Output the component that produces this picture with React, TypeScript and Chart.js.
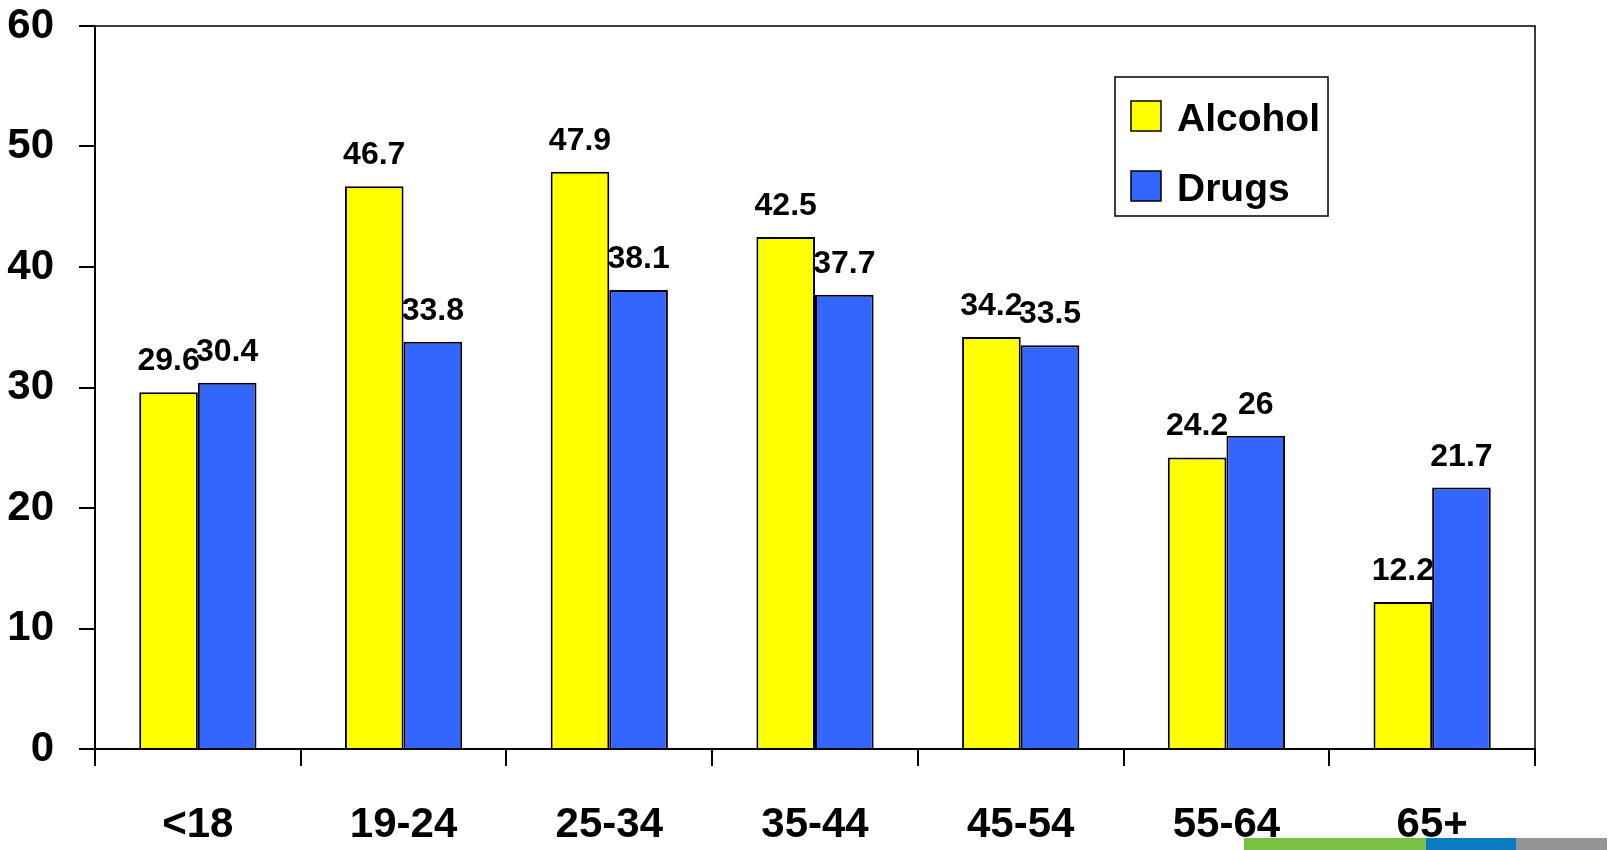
import { useEffect, useRef } from "react";
import { Chart, registerables } from "chart.js";

Chart.register(...registerables);

// Age groups along the x axis
const ageGroups = ["<18", "19-24", "25-34", "35-44", "45-54", "55-64", "65+"];
// Percentages per age group
const alcoholValues = [29.6, 46.7, 47.9, 42.5, 34.2, 24.2, 12.2];
const drugValues = [30.4, 33.8, 38.1, 37.7, 33.5, 26, 21.7];
// Value axis range
const yMin = 0;
const yMax = 60;
const yStep = 10;

const FONT = '"Liberation Sans", Arial, sans-serif';

// Prints each bar's value above it
const valueLabels = {
  id: "valueLabels",
  afterDatasetsDraw(chart: any) {
    const ctx = chart.ctx;
    ctx.save();
    ctx.font = `bold 32px ${FONT}`;
    ctx.fillStyle = "#000";
    ctx.textAlign = "center";
    ctx.textBaseline = "alphabetic";
    chart.data.datasets.forEach((ds: any, i: number) => {
      const meta = chart.getDatasetMeta(i);
      meta.data.forEach((bar: any, j: number) => {
        ctx.fillText(String(ds.data[j]), bar.x, bar.y - 22);
      });
    });
    ctx.restore();
  },
};

// Frame on the top and right of the plot area
const plotFrame = {
  id: "plotFrame",
  afterDraw(chart: any) {
    const { ctx, chartArea } = chart;
    ctx.save();
    ctx.strokeStyle = "#000";
    ctx.lineWidth = 1.5;
    ctx.beginPath();
    ctx.moveTo(chartArea.left, chartArea.top);
    ctx.lineTo(chartArea.right, chartArea.top);
    ctx.lineTo(chartArea.right, chartArea.bottom);
    ctx.stroke();
    ctx.restore();
  },
};

// Boxed legend inside the plot, upper right
const boxedLegend = {
  id: "boxedLegend",
  afterDraw(chart: any) {
    const ctx = chart.ctx;
    const left = 1115;
    const top = 77;
    const width = 213;
    const height = 139;
    ctx.save();
    ctx.fillStyle = "#fff";
    ctx.fillRect(left, top, width, height);
    ctx.strokeStyle = "#000";
    ctx.lineWidth = 1.5;
    ctx.strokeRect(left, top, width, height);
    ctx.font = `bold 39px ${FONT}`;
    ctx.textAlign = "left";
    ctx.textBaseline = "alphabetic";
    chart.data.datasets.forEach((ds: any, i: number) => {
      const sy = top + 24 + i * 70;
      ctx.fillStyle = ds.backgroundColor;
      ctx.fillRect(left + 16, sy, 30, 30);
      ctx.strokeStyle = "#000";
      ctx.lineWidth = 1.5;
      ctx.strokeRect(left + 16, sy, 30, 30);
      ctx.fillStyle = "#000";
      ctx.fillText(ds.label, left + 62, sy + 30);
    });
    ctx.restore();
  },
};

function AgeChart() {
  const canvasRef = useRef<HTMLCanvasElement | null>(null);

  useEffect(() => {
    const canvas = canvasRef.current;
    if (!canvas) return;
    const chart = new Chart(canvas, {
      type: "bar",
      data: {
        labels: ageGroups,
        datasets: [
          {
            label: "Alcohol",
            data: alcoholValues,
            backgroundColor: "#FFFF00",
            borderColor: "#000",
            borderWidth: 2,
            categoryPercentage: 0.57,
            barPercentage: 1.0,
          },
          {
            label: "Drugs",
            data: drugValues,
            backgroundColor: "#3366FF",
            borderColor: "#000",
            borderWidth: 2,
            categoryPercentage: 0.57,
            barPercentage: 1.0,
          },
        ],
      },
      options: {
        animation: false,
        responsive: false,
        maintainAspectRatio: false,
        layout: { padding: { top: 26, right: 77, left: 0, bottom: 0 } },
        plugins: {
          legend: { display: false },
          tooltip: { enabled: false },
        },
        scales: {
          x: {
            offset: true,
            grid: {
              offset: true,
              drawOnChartArea: false,
              drawTicks: true,
              tickLength: 17,
              color: "#000",
              lineWidth: 2,
            },
            border: { color: "#000", width: 2 },
            ticks: {
              color: "#000",
              font: { family: FONT, size: 42, weight: "bold" },
              padding: 34,
              maxRotation: 0,
            },
            afterFit(scale: any) {
              scale.height = 101;
            },
          },
          y: {
            min: yMin,
            max: yMax,
            grid: {
              drawOnChartArea: false,
              drawTicks: true,
              tickLength: 16,
              color: "#000",
              lineWidth: 2,
            },
            border: { color: "#000", width: 2 },
            ticks: {
              stepSize: yStep,
              color: "#000",
              font: { family: FONT, size: 42, weight: "bold" },
              padding: 25,
            },
            afterFit(scale: any) {
              scale.width = 95;
              scale.paddingTop = 0;
              scale.paddingBottom = 0;
            },
          },
        },
      },
      plugins: [valueLabels, plotFrame, boxedLegend],
    });
    return () => chart.destroy();
  }, []);

  return <canvas ref={canvasRef} width={1612} height={850} style={{ display: "block" }} />;
}

export default function App() {
  return (
    <div style={{ position: "absolute", left: 0, top: 0, width: 1612, height: 850, background: "#fff", overflow: "hidden" }}>
      <AgeChart />
      <div style={{ position: "absolute", top: 838, left: 1244, width: 182, height: 12, background: "#7AC143" }} />
      <div style={{ position: "absolute", top: 838, left: 1426, width: 90, height: 12, background: "#0A7BC1" }} />
      <div style={{ position: "absolute", top: 838, left: 1516, width: 91, height: 12, background: "#939598" }} />
    </div>
  );
}
